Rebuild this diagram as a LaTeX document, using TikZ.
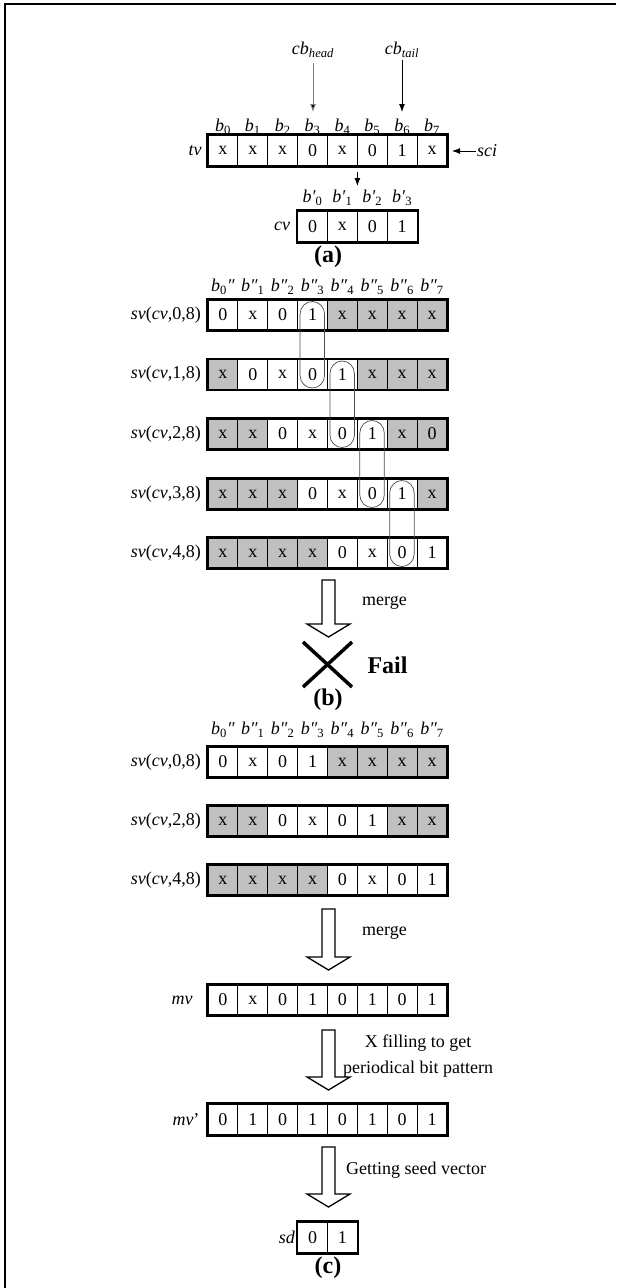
\documentclass[tikz,border=0pt]{standalone}
\usepackage{fontspec}
\setmainfont{Liberation Serif}
\usetikzlibrary{arrows.meta}
\definecolor{cg}{RGB}{192,192,192}
\newcommand\cf{\fontsize{18}{20}\selectfont}
\newcommand\bigf{\fontsize{24}{26}\selectfont\bfseries}
\newcommand\colx[1]{208+29.875*(#1+0.5)}
% #1 name, #2 y centre, #3 height, #4 first col, #5 last col, #6 list col/value/fill
\newcommand\cellrow[6]{%
  \foreach \c/\v/\f in {#6}{%
    \node[cellbox, fill=\f, minimum height=#3pt] (#1-\c) at ({\colx{\c}},#2) {\v};
  }
  \draw[rowframe] (#1-#4.north west) rectangle (#1-#5.south east);
}
\begin{document}
\begin{tikzpicture}[x=1pt,y=-1pt,
  cellbox/.style={draw, line width=1.1pt, minimum width=29.875pt, inner sep=0pt, font=\cf},
  rowframe/.style={line width=2pt},
  lbl/.style={font=\cf, inner sep=1pt},
  bigarrow/.style={draw, fill=white, line width=1.3pt, line join=miter},
  tip/.style={-{Latex[length=8pt,width=6pt]}, line width=0.9pt},
  loopline/.style={draw=black!70, line width=0.7pt, rounded corners=12.5pt}]
\useasboundingbox (0,0) rectangle (616,1288);
\draw[line width=2pt] (5,1288) -- (5,4.3) -- (616,4.3);

% ---------------- (a)
\node[lbl] (cbh) at (313,50) {\textit{cb}\textsubscript{\textit{head}}};
\node[lbl] (cbt) at (402,50) {\textit{cb}\textsubscript{\textit{tail}}};
\coordinate (cbhend) at (313,112);
\coordinate (cbtend) at (402,112);
\draw[tip, draw=black!50, -{Latex[length=8pt,width=6pt,fill=black]}] (313,63) -- (cbhend);
\draw[tip] (402,60) -- (cbtend);
\foreach \c in {0,...,7}{\node[lbl] (bt-\c) at ({\colx{\c}},127) {\textit{b}\textsubscript{\c}};}
\cellrow{tv}{150.5}{31}{0}{7}{0/x/white,1/x/white,2/x/white,3/0/white,4/x/white,5/0/white,6/1/white,7/x/white}
\node[lbl] (tvl) at (195,150.5) {\textit{tv}};
\node[lbl, anchor=west] (sci) at (476,151) {\textit{sci}};
\coordinate (sciend) at (452,151);
\draw[tip] (sci.west) -- (sciend);
\coordinate (sa) at (357.4,172);
\coordinate (sb) at (357.4,186);
\draw[tip] (sa) -- (sb);
\foreach \c/\s in {3/0,4/1,5/2,6/3}{\node[lbl] (bc-\c) at ({\colx{\c}},198) {\textit{b}\textit{′}\textsubscript{\s}};}
\cellrow{cv}{226.5}{31}{3}{6}{3/0/white,4/x/white,5/0/white,6/1/white}
\node[lbl] (cvl) at (282,226.5) {\textit{cv}};
\node[font=\bigf] (capa) at (328,257) {(a)};

% ---------------- (b)
\node[lbl] (bb-0) at ({\colx{0}},287) {\textit{b}\textsubscript{0}\textit{″}};
\foreach \c in {1,...,7}{\node[lbl] (bb-\c) at ({\colx{\c}},287) {\textit{b}\textit{″}\textsubscript{\c}};}
\cellrow{ba}{315}{30}{0}{7}{0/0/white,1/x/white,2/0/white,3/1/white,4/x/cg,5/x/cg,6/x/cg,7/x/cg}
\cellrow{bb}{374.5}{30}{0}{7}{0/x/cg,1/0/white,2/x/white,3/0/white,4/1/white,5/x/cg,6/x/cg,7/x/cg}
\cellrow{bc}{434}{30}{0}{7}{0/x/cg,1/x/cg,2/0/white,3/x/white,4/0/white,5/1/white,6/x/cg,7/0/cg}
\cellrow{bd}{494}{30}{0}{7}{0/x/cg,1/x/cg,2/x/cg,3/0/white,4/x/white,5/0/white,6/1/white,7/x/cg}
\cellrow{be}{553}{30}{0}{7}{0/x/cg,1/x/cg,2/x/cg,3/x/cg,4/0/white,5/x/white,6/0/white,7/1/white}
\node[lbl, anchor=east] (lba) at (202,315) {\textit{sv}(\textit{cv},0,8)};
\node[lbl, anchor=east] (lbb) at (202,374.5) {\textit{sv}(\textit{cv},1,8)};
\node[lbl, anchor=east] (lbc) at (202,434) {\textit{sv}(\textit{cv},2,8)};
\node[lbl, anchor=east] (lbd) at (202,494) {\textit{sv}(\textit{cv},3,8)};
\node[lbl, anchor=east] (lbe) at (202,553) {\textit{sv}(\textit{cv},4,8)};
\draw[loopline] ([xshift=-12.5pt,yshift=-2pt]ba-3.north) rectangle ([xshift=12pt,yshift=2pt]bb-3.south);
\draw[loopline] ([xshift=-12.5pt,yshift=-2pt]bb-4.north) rectangle ([xshift=12pt,yshift=2pt]bc-4.south);
\draw[loopline] ([xshift=-12.5pt,yshift=-2pt]bc-5.north) rectangle ([xshift=12pt,yshift=2pt]bd-5.south);
\draw[loopline] ([xshift=-12.5pt,yshift=-2pt]bd-6.north) rectangle ([xshift=12pt,yshift=2pt]be-6.south);
\draw[bigarrow] (322,580) -- (335,580) -- (335,624) -- (350,624) -- (328.5,637) -- (307,624) -- (322,624) -- cycle;
\node[lbl, anchor=west] (mrgb) at (361,603) {merge};
\draw[line width=3.5pt] (303,642) -- (352,687);
\draw[line width=3.5pt] (303,687) -- (352,642);
\node[font=\bigf, anchor=west] (fail) at (364,665) {Fail};
\node[font=\bigf] (capb) at (328,700) {(b)};

% ---------------- (c)
\node[lbl] (cb-0) at ({\colx{0}},730) {\textit{b}\textsubscript{0}\textit{″}};
\foreach \c in {1,...,7}{\node[lbl] (cb-\c) at ({\colx{\c}},730) {\textit{b}\textit{″}\textsubscript{\c}};}
\cellrow{ca}{762}{30}{0}{7}{0/0/white,1/x/white,2/0/white,3/1/white,4/x/cg,5/x/cg,6/x/cg,7/x/cg}
\cellrow{cc}{821}{30}{0}{7}{0/x/cg,1/x/cg,2/0/white,3/x/white,4/0/white,5/1/white,6/x/cg,7/x/cg}
\cellrow{ce}{880}{30}{0}{7}{0/x/cg,1/x/cg,2/x/cg,3/x/cg,4/0/white,5/x/white,6/0/white,7/1/white}
\node[lbl, anchor=east] (lca) at (202,762) {\textit{sv}(\textit{cv},0,8)};
\node[lbl, anchor=east] (lcc) at (202,821) {\textit{sv}(\textit{cv},2,8)};
\node[lbl, anchor=east] (lce) at (202,880) {\textit{sv}(\textit{cv},4,8)};
\draw[bigarrow] (322,909) -- (335,909) -- (335,957) -- (350,957) -- (328.5,970) -- (307,957) -- (322,957) -- cycle;
\node[lbl, anchor=west] (mrgc) at (361,933) {merge};
\cellrow{mv}{1000}{30}{0}{7}{0/0/white,1/x/white,2/0/white,3/1/white,4/0/white,5/1/white,6/0/white,7/1/white}
\node[lbl] (mvl) at (182,1000) {\textit{mv}};
\draw[bigarrow] (322,1030) -- (335,1030) -- (335,1077) -- (350,1077) -- (328.5,1090) -- (307,1077) -- (322,1077) -- cycle;
\node[font=\fontsize{18}{26}\selectfont, align=center] (xfill) at (418,1056) {X filling to get\\periodical bit pattern};
\cellrow{mw}{1119.5}{31}{0}{7}{0/0/white,1/1/white,2/0/white,3/1/white,4/0/white,5/1/white,6/0/white,7/1/white}
\node[lbl] (mwl) at (186,1119.5) {\textit{mv}’};
\draw[bigarrow] (322,1147) -- (335,1147) -- (335,1194) -- (350,1194) -- (328.5,1207) -- (307,1194) -- (322,1194) -- cycle;
\node[lbl, anchor=west] (gsv) at (345,1170) {Getting seed vector};
\cellrow{sd}{1237.5}{31}{3}{4}{3/0/white,4/1/white}
\node[lbl] (sdl) at (287,1237.5) {\textit{sd}};
\node[font=\bigf] (capc) at (328,1268) {(c)};
\end{tikzpicture}
\end{document}
